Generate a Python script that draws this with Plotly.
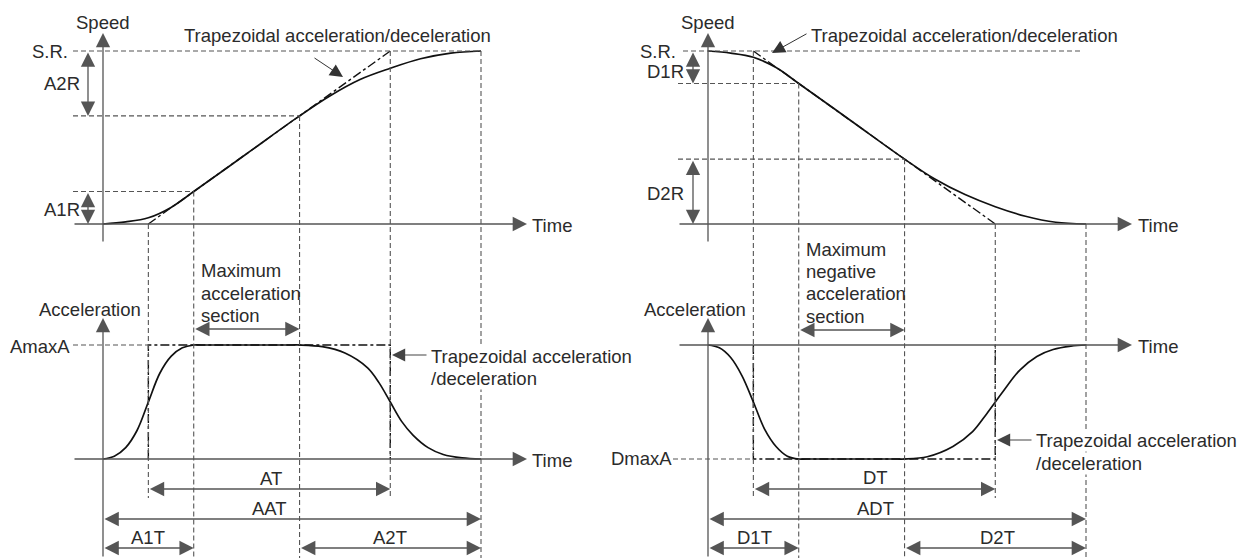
import plotly.graph_objects as go

W, H = 1239, 558

# ---- data: time in ms, speed in % of S.R., acceleration in % of max ----
SR = 100.0
A1R, A2R = 18.75, 37.5
D1R, D2R = 18.75, 37.5
AAT, A1T, A2T = 1000, 240, 480
ADT, D1T, D2T = 1000, 240, 480
AMAXA, DMAXA = 100.0, -100.0

acc_speed_t = [0, 60, 120, 180, 240, 380, 520, 600, 680, 760, 840, 920, 1000]
acc_speed_v = [0, 1.2, 3.6, 9.6, 18.75, 40.6, 62.5, 74, 83.5, 90, 95.5, 98.8, 100]

dec_speed_t = [0, 60, 120, 180, 240, 380, 520, 600, 680, 760, 840, 920, 1000]
dec_speed_v = [100, 98.8, 96.4, 90.4, 81.25, 59.4, 37.5, 26, 17, 10, 4.5, 1, 0]

acc_acc_t = [0, 30, 60, 90, 120, 150, 180, 210, 240, 260, 500, 520, 580, 640, 700, 730, 760, 790, 820, 860, 900, 950, 1000]
acc_acc_a = [0, 2.5, 10, 25, 50, 75, 90, 97.5, 100, 100, 100, 100, 98.5, 93, 80, 67, 50, 33, 21, 10, 4, 1, 0]

dec_acc_t = [0, 30, 60, 90, 120, 150, 180, 210, 240, 260, 500, 520, 580, 648, 700, 738, 780, 825, 870, 913, 960, 1000]
dec_acc_a = [0, -2.5, -11, -27, -50, -74, -89, -97.5, -100, -100, -100, -100, -98, -89, -76, -60, -41, -22, -10, -4, -1, 0]

# ---- page geometry (pixels) ----
K = 0.378                 # px per ms
LX0, RX0 = 103, 708       # x of t=0
SPY0, SPK = 224, 1.73     # y of speed 0, px per %
LAY0, RAY0, AK = 459, 345, 1.14

def lt(px): return (px - LX0) / K
def rt(px): return (px - RX0) / K
def sv(py): return (SPY0 - py) / SPK
def la(py): return (LAY0 - py) / AK
def ra(py): return (RAY0 - py) / AK
def sp(v): return SPY0 - v * SPK
def pp(py): return 1 - py / H

FS = 18.5
TXT = '#2b2b2b'
AXC = '#555555'
DASHC = '#555555'
CURVE = '#111111'
TRAP_DASH = '9px,3px,3px,3px'

fig = go.Figure()

def curve(t, v, xa, ya):
    fig.add_trace(go.Scatter(x=t, y=v, xaxis=xa, yaxis=ya, mode='lines', hoverinfo='skip',
                             line=dict(color=CURVE, width=1.7, shape='spline', smoothing=1)))

def trap(t, v, xa, ya):
    fig.add_trace(go.Scatter(x=t, y=v, xaxis=xa, yaxis=ya, mode='lines', hoverinfo='skip',
                             line=dict(color=CURVE, width=1.4, dash=TRAP_DASH)))

curve(acc_speed_t, acc_speed_v, 'x', 'y')
trap([A1T / 2, AAT - A2T / 2], [0, SR], 'x', 'y')
curve(acc_acc_t, acc_acc_a, 'x', 'y2')
trap([A1T / 2, A1T / 2, AAT - A2T / 2, AAT - A2T / 2], [0, AMAXA, AMAXA, 0], 'x', 'y2')
curve(dec_speed_t, dec_speed_v, 'x2', 'y')
trap([D1T / 2, ADT - D2T / 2], [SR, 0], 'x2', 'y')
curve(dec_acc_t, dec_acc_a, 'x2', 'y3')
trap([D1T / 2, D1T / 2, ADT - D2T / 2, ADT - D2T / 2], [0, DMAXA, DMAXA, 0], 'x2', 'y3')

shapes = []
def hdash(xr, yr, x0, x1, y):
    shapes.append(dict(type='line', xref=xr, yref=yr, x0=x0, x1=x1, y0=y, y1=y,
                       line=dict(color=DASHC, width=1.1, dash='5px,3px')))

def vdash(xr, t, py0, py1):
    shapes.append(dict(type='line', xref=xr, yref='paper', x0=t, x1=t, y0=pp(py0), y1=pp(py1),
                       line=dict(color=DASHC, width=1.1, dash='5px,3px')))

# left
hdash('x', 'y', lt(73), AAT, SR)
hdash('x', 'y', lt(73), AAT - A2T, SR - A2R)
hdash('x', 'y', lt(73), A1T, A1R)
hdash('x', 'y2', lt(73), A1T / 2, AMAXA)
vdash('x', A1T / 2, sp(0), 498)
vdash('x', A1T, sp(A1R), 558)
vdash('x', AAT - A2T, sp(SR - A2R), 558)
vdash('x', AAT - A2T / 2, sp(SR), 498)
vdash('x', AAT, sp(SR), 558)
# right
hdash('x2', 'y', rt(683), rt(1082), SR)
hdash('x2', 'y', rt(678), D1T, SR - D1R)
hdash('x2', 'y', rt(678), ADT - D2T, D2R)
hdash('x2', 'y3', rt(673), D1T / 2, DMAXA)
vdash('x2', D1T / 2, sp(SR), 498)
vdash('x2', D1T, sp(SR - D1R), 558)
vdash('x2', ADT - D2T, sp(D2R), 558)
vdash('x2', ADT - D2T / 2, sp(0), 498)
vdash('x2', ADT, sp(0), 558)

ann = []
def arrow(xr, yr, x, y, ax, ay, both=False, color=AXC, width=1.3, size=2.2):
    d = dict(xref=xr, yref=yr, x=x, y=y, axref=xr, ayref=yr, ax=ax, ay=ay, text='',
             showarrow=True, arrowhead=2, arrowsize=size, arrowwidth=width, arrowcolor=color,
             standoff=0, startstandoff=0, font=dict(size=1))
    if both:
        d.update(arrowside='end+start', startarrowhead=2, startarrowsize=size)
    ann.append(d)

def text(px, py, s, anchor='center', bg=None):
    d = dict(xref='paper', yref='paper', x=px / W, y=pp(py), text=s, showarrow=False,
             xanchor=anchor, yanchor='middle', font=dict(size=FS, color=TXT), borderpad=0)
    if bg:
        d['bgcolor'] = bg
    ann.append(d)

# axes with arrowheads
arrow('x', 'y', 0, sv(33), 0, sv(243))
arrow('x', 'y', lt(527), 0, lt(73), 0)
arrow('x', 'y2', 0, la(318), 0, la(558))
arrow('x', 'y2', lt(527), 0, lt(73), 0)
arrow('x2', 'y', 0, sv(33), 0, sv(243))
arrow('x2', 'y', rt(1132), 0, rt(678), 0)
arrow('x2', 'y3', 0, ra(318), 0, ra(558))
arrow('x2', 'y3', rt(1132), 0, rt(678), 0)

# dimension arrows, left
arrow('x', 'y', lt(88), SR - A2R, lt(88), SR, both=True)
arrow('x', 'y', lt(88), 0, lt(88), A1R, both=True)
arrow('x', 'y2', AAT - A2T, la(329), A1T, la(329), both=True)
arrow('x', 'y2', AAT - A2T / 2, la(489), A1T / 2, la(489), both=True)
arrow('x', 'y2', AAT, la(519), 0, la(519), both=True)
arrow('x', 'y2', A1T, la(548), 0, la(548), both=True)
arrow('x', 'y2', AAT, la(548), AAT - A2T, la(548), both=True)
# dimension arrows, right
arrow('x2', 'y', rt(693), SR - D1R, rt(693), SR, both=True)
arrow('x2', 'y', rt(693), 0, rt(693), D2R, both=True)
arrow('x2', 'y3', ADT - D2T, ra(330), D1T, ra(330), both=True)
arrow('x2', 'y3', ADT - D2T / 2, ra(489), D1T / 2, ra(489), both=True)
arrow('x2', 'y3', ADT, ra(519), 0, ra(519), both=True)
arrow('x2', 'y3', D1T, ra(548), 0, ra(548), both=True)
arrow('x2', 'y3', ADT, ra(548), ADT - D2T, ra(548), both=True)

# leader arrows
arrow('x', 'y', lt(343), sv(77), lt(313), sv(57), color='#333333', width=1.0, size=2.6)
arrow('x2', 'y', rt(772), sv(53), rt(808), sv(33), color='#333333', width=1.0, size=2.6)
arrow('x', 'y2', lt(392), la(355), lt(428), la(355), color='#444444', width=1.2, size=2.2)
arrow('x2', 'y3', rt(997), ra(440), rt(1033), ra(440), color='#444444', width=1.2, size=2.2)

# labels, left
text(103, 22, 'Speed')
text(69, 52, 'S.R.', 'right')
text(62, 84, 'A2R')
text(62, 209, 'A1R')
text(337, 36, 'Trapezoidal acceleration/deceleration')
text(531, 226, 'Time', 'left')
text(200, 270, 'Maximum', 'left')
text(200, 293, 'acceleration', 'left')
text(200, 315, 'section', 'left')
text(90, 309, 'Acceleration')
text(71, 346, 'AmaxA', 'right')
text(430, 356, 'Trapezoidal acceleration', 'left', 'white')
text(430, 378, '/deceleration', 'left', 'white')
text(531, 460, 'Time', 'left')
text(271, 478, 'AT')
text(269, 508, 'AAT')
text(148, 537, 'A1T')
text(390, 537, 'A2T')
# labels, right
text(708, 22, 'Speed')
text(677, 51, 'S.R.', 'right')
text(666, 71, 'D1R')
text(666, 193, 'D2R')
text(810, 36, 'Trapezoidal acceleration/deceleration', 'left')
text(1137, 226, 'Time', 'left')
text(695, 309, 'Acceleration')
text(805, 249, 'Maximum', 'left')
text(805, 272, 'negative', 'left')
text(805, 293, 'acceleration', 'left')
text(805, 316, 'section', 'left')
text(1137, 346, 'Time', 'left')
text(673, 458, 'DmaxA', 'right')
text(1035, 440, 'Trapezoidal acceleration', 'left', 'white')
text(1035, 463, '/deceleration', 'left', 'white')
text(875, 477, 'DT')
text(875, 508, 'ADT')
text(754, 537, 'D1T')
text(997, 537, 'D2T')

hidden = dict(visible=False, fixedrange=True, domain=[0, 1])
fig.update_layout(
    width=W, height=H, margin=dict(l=0, r=0, t=0, b=0),
    paper_bgcolor='white', plot_bgcolor='rgba(0,0,0,0)', showlegend=False,
    font=dict(family='Liberation Sans, Arial, sans-serif', size=FS, color=TXT),
    xaxis=dict(range=[-LX0 / K, (W - LX0) / K], **hidden),
    xaxis2=dict(range=[-RX0 / K, (W - RX0) / K], overlaying='x', **hidden),
    yaxis=dict(range=[-(H - SPY0) / SPK, SPY0 / SPK], **hidden),
    yaxis2=dict(range=[-(H - LAY0) / AK, LAY0 / AK], overlaying='y', **hidden),
    yaxis3=dict(range=[-(H - RAY0) / AK, RAY0 / AK], overlaying='y', **hidden),
    shapes=shapes, annotations=ann,
)

# drop the default page margin so the figure sits at the window's top-left corner
fig.write_html('out.html', config={'displayModeBar': False},
               post_script="document.body.style.margin='0';document.body.style.overflow='hidden';")
